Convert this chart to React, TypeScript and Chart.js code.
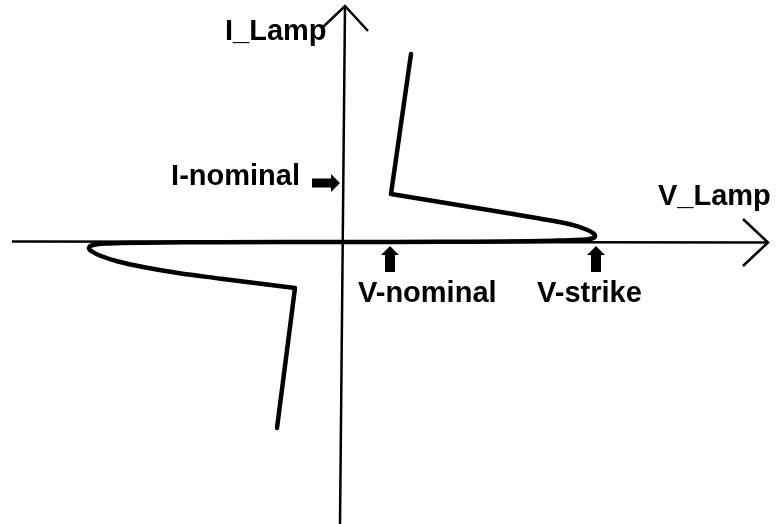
import React, { useEffect, useRef } from 'react';
import { Chart, registerables } from 'chart.js';

Chart.register(...registerables);

// ---- Data (V_Lamp on x, I_Lamp on y, arbitrary schematic units) ----
// Positive branch: steep part, knee, then turn-around near strike voltage
const posStraightV = [68, 48, 170];
const posStraightI = [188, 48, 28];
const posCurveV = [170, 205, 228, 242, 250, 252, 249, 238, 210, 160, 100, 0];
const posCurveI = [28, 22, 17.5, 13, 9, 6, 3.5, 2.2, 1.3, 0.6, 0.2, 0];
// Negative branch (mirror)
const negStraightV = [-66, -48, -120];
const negStraightI = [-186, -46, -37];
const negCurveV = [-120, -165, -200, -225, -242, -251, -254, -250, -235, -200, -120, 0];
const negCurveI = [-37, -31, -25, -19.5, -14, -9.5, -6, -3, -1.5, -0.7, -0.2, 0];

// Axes lines and arrow heads
const hAxisV = [-331, 425];
const hAxisI = [0.5, -0.5];
const vAxisV = [-3, 2];
const vAxisI = [-282, 236];
const hArrowV = [400, 425, 400];
const hArrowI = [23, -0.5, -24];
const vArrowV = [-20, 2, 25];
const vArrowI = [215, 236, 211];

// Markers
const vMarkerValues = [47, 253];
const vMarkerLabels = ['V-nominal', 'V-strike'];
const iMarkerValues = [59];
const iMarkerLabels = ['I-nominal'];
const axisTitles = ['V_Lamp', 'I_Lamp'];

// Scale extent
const X_MIN = -343;
const X_MAX = 436;
const Y_MIN = -282;
const Y_MAX = 242;

const zip = (xs: number[], ys: number[]) => xs.map((x, i) => ({ x, y: ys[i] }));

const FONT = 'bold 29px "Liberation Sans", Arial, sans-serif';

const annotationPlugin = {
  id: 'schematicAnnotations',
  afterDatasetsDraw(chart: any) {
    const ctx = chart.ctx as CanvasRenderingContext2D;
    const xs = chart.scales.x;
    const ys = chart.scales.y;
    const px0 = xs.getPixelForValue(0);
    const py0 = ys.getPixelForValue(0);
    ctx.save();
    ctx.fillStyle = '#000';
    // V markers (up arrows below the axis)
    vMarkerValues.forEach((v) => {
      const px = xs.getPixelForValue(v);
      ctx.beginPath();
      ctx.moveTo(px, py0 + 4);
      ctx.lineTo(px + 9, py0 + 13);
      ctx.lineTo(px + 5, py0 + 13);
      ctx.lineTo(px + 5, py0 + 30);
      ctx.lineTo(px - 5, py0 + 30);
      ctx.lineTo(px - 5, py0 + 13);
      ctx.lineTo(px - 9, py0 + 13);
      ctx.closePath();
      ctx.fill();
    });
    // I marker (right arrow left of the axis)
    iMarkerValues.forEach((iv) => {
      const py = ys.getPixelForValue(iv);
      ctx.beginPath();
      ctx.moveTo(px0 - 3, py);
      ctx.lineTo(px0 - 12, py - 9);
      ctx.lineTo(px0 - 12, py - 4.5);
      ctx.lineTo(px0 - 31, py - 4.5);
      ctx.lineTo(px0 - 31, py + 4.5);
      ctx.lineTo(px0 - 12, py + 4.5);
      ctx.lineTo(px0 - 12, py + 9);
      ctx.closePath();
      ctx.fill();
    });
    // Labels
    ctx.font = FONT;
    ctx.textBaseline = 'alphabetic';
    ctx.textAlign = 'left';
    vMarkerLabels.forEach((t, i) => {
      const px = xs.getPixelForValue(vMarkerValues[i]);
      ctx.fillText(t, px + (i === 0 ? -32 : -59), py0 + 60);
    });
    ctx.textAlign = 'right';
    iMarkerLabels.forEach((t, i) => {
      const py = ys.getPixelForValue(iMarkerValues[i]);
      ctx.fillText(t, px0 - 43, py + 2);
    });
    ctx.textAlign = 'left';
    ctx.fillText(axisTitles[0], xs.getPixelForValue(315), ys.getPixelForValue(37));
    ctx.fillText(axisTitles[1], xs.getPixelForValue(-118), ys.getPixelForValue(202));
    ctx.restore();
  },
};

export default function App() {
  const ref = useRef<HTMLCanvasElement | null>(null);
  useEffect(() => {
    if (!ref.current) return;
    const thin = { borderColor: '#000', borderWidth: 2.5, pointRadius: 0, showLine: true, tension: 0 };
    const thick = { borderColor: '#000', borderWidth: 4.5, pointRadius: 0, showLine: true, borderCapStyle: 'round', borderJoinStyle: 'round' };
    const chart = new Chart(ref.current, {
      type: 'scatter',
      data: {
        datasets: [
          { ...thin, data: zip(hAxisV, hAxisI) },
          { ...thin, data: zip(vAxisV, vAxisI) },
          { ...thin, data: zip(hArrowV, hArrowI) },
          { ...thin, data: zip(vArrowV, vArrowI) },
          { ...thick, tension: 0, data: zip(posStraightV, posStraightI) },
          { ...thick, tension: 0.4, data: zip(posCurveV, posCurveI) },
          { ...thick, tension: 0, data: zip(negStraightV, negStraightI) },
          { ...thick, tension: 0.4, data: zip(negCurveV, negCurveI) },
        ] as any,
      },
      options: {
        animation: false,
        responsive: false,
        events: [],
        layout: { padding: 0 },
        plugins: { legend: { display: false }, tooltip: { enabled: false } },
        scales: {
          x: { type: 'linear', display: false, min: X_MIN, max: X_MAX },
          y: { type: 'linear', display: false, min: Y_MIN, max: Y_MAX },
        },
      } as any,
      plugins: [annotationPlugin],
    });
    return () => chart.destroy();
  }, []);
  return (
    <div style={{ position: 'absolute', left: 0, top: 0, width: 779, height: 524, background: '#fff' }}>
      <canvas ref={ref} width={779} height={524} />
    </div>
  );
}
